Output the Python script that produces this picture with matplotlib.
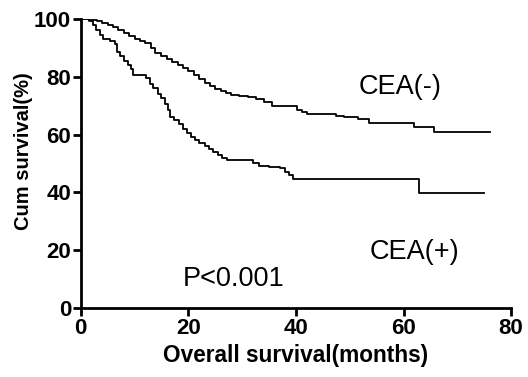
import matplotlib
matplotlib.use("Agg")
import matplotlib.pyplot as plt

plt.rcParams['font.family'] = ['Liberation Sans', 'DejaVu Sans']

# CEA(-) curve: months, cumulative survival (%)
neg_time = [0, 1.5, 3, 4, 5, 6, 7, 8, 9, 10, 11, 12, 13, 13.8, 15, 16, 17, 18, 19, 20,
            21, 22, 23, 24, 25, 26, 27, 28, 29.5, 31, 32.5, 34, 35.5, 40.2, 41.2, 42.0,
            47.5, 49.0, 51.5, 53.5, 62.0, 65.7, 76.0]
neg_surv = [100, 99.6, 99.2, 98.6, 98.0, 97.2, 96.2, 95.0, 94.0, 93.2, 92.4, 91.5, 89.8, 88.2,
            87.2, 86.2, 85.2, 84.2, 83.0, 82.0, 80.6, 79.2, 77.8, 76.8, 75.8, 75.0, 74.2, 73.6,
            73.2, 72.9, 72.2, 71.2, 69.8, 68.6, 67.8, 67.0, 66.4, 65.9, 65.3, 63.9, 62.5, 60.8, 60.8]

# CEA(+) curve
pos_time = [0, 1.5, 2.2, 2.8, 3.5, 4.2, 5.5, 6.3, 6.7, 7.3, 8.0, 8.8, 9.3, 9.8, 12.2, 12.8,
            13.5, 14.3, 15.0, 15.7, 16.2, 16.5, 17.3, 18.2, 19.0, 19.7, 20.5, 21.2, 22.0, 23.0,
            23.8, 24.6, 25.5, 26.3, 27.1, 32.1, 33.2, 35, 37, 38, 38.8, 39.5, 62.9, 75.0]
pos_surv = [100, 99.2, 98.0, 96.2, 94.5, 93.2, 92.5, 91.2, 88.5, 87.0, 85.5, 84.0, 82.5, 80.6,
            79.5, 77.5, 76.0, 74.0, 72.5, 70.5, 68.5, 66.0, 65.0, 63.5, 62.0, 60.4, 59.3, 58.2,
            57.0, 56.0, 55.0, 54.1, 53.0, 52.0, 51.2, 50.3, 49.2, 48.8, 48.3, 47.2, 46.0, 44.6,
            39.9, 39.9]

xticks = [0, 20, 40, 60, 80]
yticks = [0, 20, 40, 60, 80, 100]

fig = plt.figure(figsize=(5.28, 3.77), dpi=100)
ax = fig.add_axes([0.153, 0.183, 0.815, 0.767])

ax.step(neg_time, neg_surv, where='post', color='black', lw=1.3)
ax.step(pos_time, pos_surv, where='post', color='black', lw=1.3)

ax.set_xlim(0, 80)
ax.set_ylim(0, 100)
ax.set_xticks(xticks)
ax.set_yticks(yticks)
ax.spines['top'].set_visible(False)
ax.spines['right'].set_visible(False)
ax.spines['left'].set_linewidth(2)
ax.spines['bottom'].set_linewidth(2)
for sp in ['left', 'bottom']:
    ax.spines[sp].set_clip_on(False)
ax.tick_params(direction='out', length=6, width=2, labelsize=16, pad=1)
for lab in ax.get_xticklabels() + ax.get_yticklabels():
    lab.set_fontweight('bold')

ax.set_xlabel('Overall survival(months)', fontsize=16.3, fontweight='bold', labelpad=4)
ax.set_ylabel('Cum survival(%)', fontsize=14.5, fontweight='bold')
ax.yaxis.set_label_coords(-0.112, 0.543)

ax.text(59.3, 76.5, 'CEA(-)', fontsize=19.5, ha='center', va='center')
ax.text(62.0, 19.5, 'CEA(+)', fontsize=19.5, ha='center', va='center')
ax.text(28.5, 10.0, 'P<0.001', fontsize=19.5, ha='center', va='center')

fig.savefig('out.png', dpi=100)
